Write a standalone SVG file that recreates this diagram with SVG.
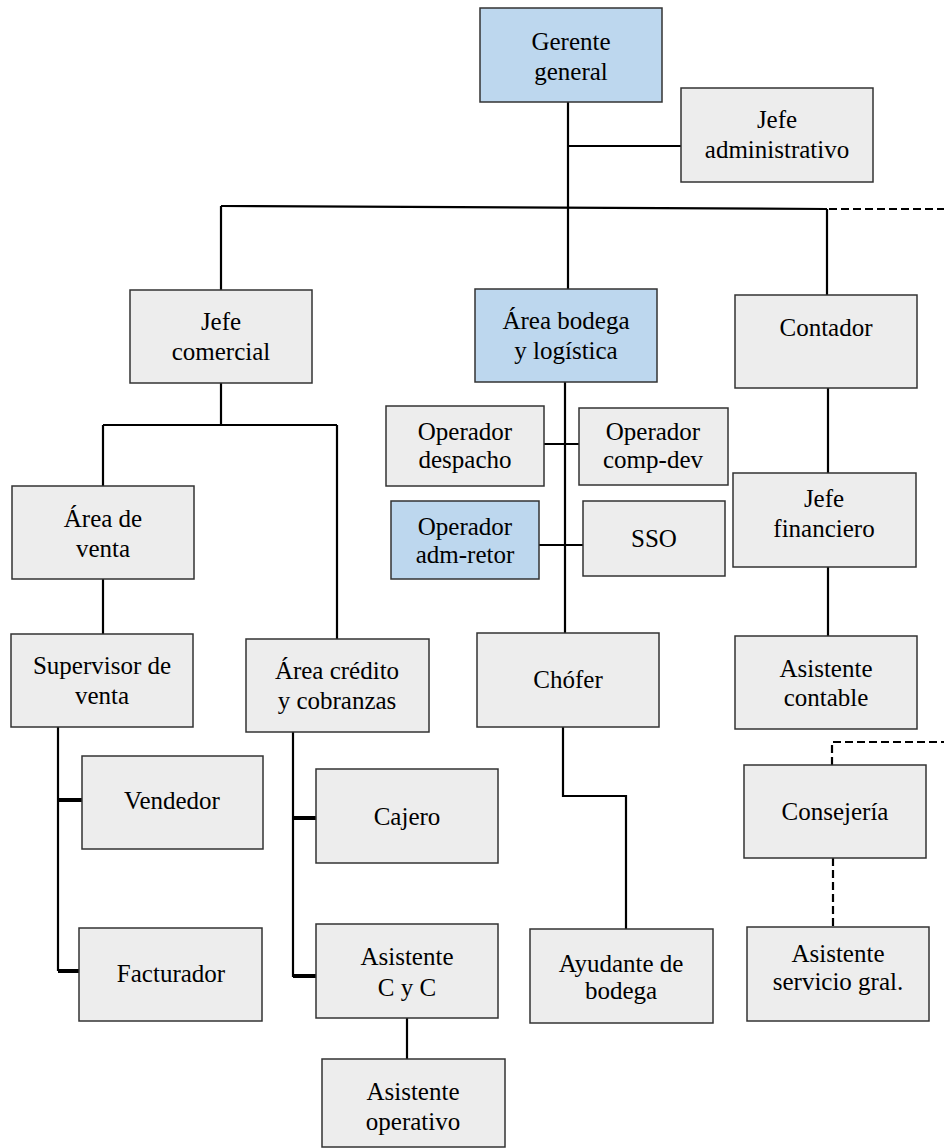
<svg xmlns="http://www.w3.org/2000/svg" width="944" height="1148" viewBox="0 0 944 1148">
<style>
.b{fill:#EDEDED;stroke:#333;stroke-width:1.5}
.bl{fill:#BDD7EE;stroke:#333;stroke-width:1.5}
.c{fill:none;stroke:#000;stroke-width:2.2}
.t{fill:none;stroke:#000;stroke-width:4}
.d{fill:none;stroke:#000;stroke-width:2.2;stroke-dasharray:8 4}
</style>
<rect width="944" height="1148" fill="#fff"/>
<g id="connectors">
<path class="c" d="M568 102V289M568 146H681"/>
<path class="c" d="M221 206L827 209"/>
<path class="c" d="M221 206V290M827 209V295"/>
<path class="d" d="M829 209H944"/>
<path class="c" d="M221 383V425M103 425H337M103 425V486M337 425V639"/>
<path class="c" d="M103 579V634"/>
<path class="c" d="M58 727V971"/>
<path class="t" d="M58 800H82M58 971H79"/>
<path class="c" d="M293 732V977"/>
<path class="t" d="M293 818H316M293 976H316"/>
<path class="c" d="M407 1018V1059"/>
<path class="c" d="M565 382V633M544 444H579M539 545H583"/>
<path class="c" d="M563 727V796H626V929"/>
<path class="c" d="M828 388V473M828 567V636"/>
<path class="d" d="M832 765V742H944M833 858V927"/>
</g>
<g font-family="'Liberation Serif', 'Times New Roman', serif" font-size="25" fill="#000" text-anchor="middle">
<g id="gerente"><rect class="bl" x="480" y="8" width="182" height="94"/><text x="571" y="50">Gerente</text><text x="571" y="80">general</text></g>
<g id="jefe-admin"><rect class="b" x="681" y="88" width="192" height="94"/><text x="777" y="128">Jefe</text><text x="777" y="158">administrativo</text></g>
<g id="jefe-comercial"><rect class="b" x="130" y="290" width="182" height="93"/><text x="221" y="330">Jefe</text><text x="221" y="360">comercial</text></g>
<g id="area-bodega"><rect class="bl" x="475" y="289" width="182" height="93"/><text x="566" y="329">Área bodega</text><text x="566" y="359">y logística</text></g>
<g id="contador"><rect class="b" x="735" y="295" width="182" height="93"/><text x="826" y="336">Contador</text></g>
<g id="op-despacho"><rect class="b" x="386" y="406" width="158" height="80"/><text x="465" y="440">Operador</text><text x="465" y="468">despacho</text></g>
<g id="op-compdev"><rect class="b" x="579" y="408" width="149" height="77"/><text x="653" y="440">Operador</text><text x="653" y="468">comp-dev</text></g>
<g id="op-admretor"><rect class="bl" x="391" y="501" width="148" height="78"/><text x="465" y="535">Operador</text><text x="465" y="563">adm-retor</text></g>
<g id="sso"><rect class="b" x="583" y="501" width="142" height="75"/><text x="654" y="547">SSO</text></g>
<g id="jefe-financiero"><rect class="b" x="733" y="473" width="183" height="94"/><text x="824" y="507">Jefe</text><text x="824" y="537">financiero</text></g>
<g id="area-venta"><rect class="b" x="12" y="486" width="182" height="93"/><text x="103" y="527">Área de</text><text x="103" y="557">venta</text></g>
<g id="supervisor"><rect class="b" x="11" y="634" width="182" height="93"/><text x="102" y="674">Supervisor de</text><text x="102" y="704">venta</text></g>
<g id="area-credito"><rect class="b" x="246" y="639" width="183" height="93"/><text x="337" y="679">Área crédito</text><text x="337" y="709">y cobranzas</text></g>
<g id="chofer"><rect class="b" x="477" y="633" width="182" height="94"/><text x="568" y="688">Chófer</text></g>
<g id="asistente-contable"><rect class="b" x="735" y="636" width="182" height="93"/><text x="826" y="677">Asistente</text><text x="826" y="706">contable</text></g>
<g id="vendedor"><rect class="b" x="82" y="756" width="181" height="93"/><text x="172" y="809">Vendedor</text></g>
<g id="cajero"><rect class="b" x="316" y="769" width="182" height="94"/><text x="407" y="825">Cajero</text></g>
<g id="consejeria"><rect class="b" x="744" y="765" width="182" height="93"/><text x="835" y="820">Consejería</text></g>
<g id="facturador"><rect class="b" x="79" y="928" width="183" height="93"/><text x="171" y="982">Facturador</text></g>
<g id="asistente-cyc"><rect class="b" x="316" y="924" width="182" height="94"/><text x="407" y="965">Asistente</text><text x="407" y="996">C y C</text></g>
<g id="ayudante"><rect class="b" x="530" y="929" width="183" height="94"/><text x="621" y="972">Ayudante de</text><text x="621" y="999">bodega</text></g>
<g id="asistente-servicio"><rect class="b" x="747" y="927" width="182" height="94"/><text x="838" y="962">Asistente</text><text x="838" y="990">servicio gral.</text></g>
<g id="asistente-operativo"><rect class="b" x="322" y="1059" width="183" height="88"/><text x="413" y="1100">Asistente</text><text x="413" y="1130">operativo</text></g>
</g>
</svg>
